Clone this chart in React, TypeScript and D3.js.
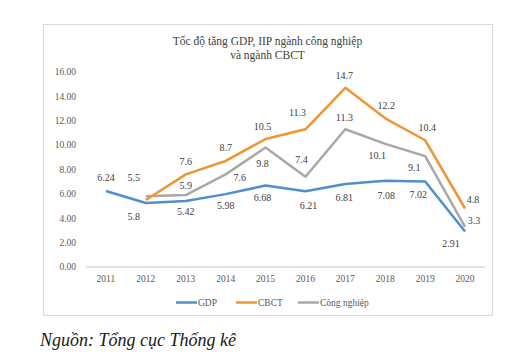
import React from "react";
import * as d3 from "d3";

const years = ["2011", "2012", "2013", "2014", "2015", "2016", "2017", "2018", "2019", "2020"];
const gdp = [6.24, 5.25, 5.42, 5.98, 6.68, 6.21, 6.81, 7.08, 7.02, 2.91];
const cbct = [null, 5.5, 7.6, 8.7, 10.5, 11.3, 14.7, 12.2, 10.4, 4.8];
const congNghiep = [null, 5.8, 5.9, 7.6, 9.8, 7.4, 11.3, 10.1, 9.1, 3.3];
const gdpLabels = ["6.24", "", "5.42", "5.98", "6.68", "6.21", "6.81", "7.08", "7.02", "2.91"];
const cbctLabels = ["", "5.5", "7.6", "8.7", "10.5", "11.3", "14.7", "12.2", "10.4", "4.8"];
const cnLabels = ["", "5.8", "5.9", "7.6", "9.8", "7.4", "11.3", "10.1", "9.1", "3.3"];
const yTicks = [0, 2, 4, 6, 8, 10, 12, 14, 16];
const seriesNames = ["GDP", "CBCT", "Công nghiệp"];

// label offsets (dx, dy) relative to the point, in px
const gdpOff: [number, number][] = [[0, -13], [0, 0], [0, 11], [0, 11], [-3, 12], [3, 14], [-1, 13], [1, 15], [-7, 13], [-14, 12]];
const cbctOff: [number, number][] = [[0, 0], [-12, -22], [0, -13], [0, -13], [-3, -13], [-8, -17], [-1, -12], [1, -13], [2, -13], [8, -9]];
const cnOff: [number, number][] = [[0, 0], [-12, 20], [0, -10], [14, 3], [-3, 16], [-4, -17], [-1, -12], [-8, 12], [-11, 11], [9, -6]];

const FONT = "Liberation Serif, Times New Roman, serif";
const COLORS = ["#4F8ECF", "#EE9632", "#A8A8A8"];
const ts: React.CSSProperties = { fontFamily: FONT };

export default function App() {
  const x = d3.scaleBand<string>().domain(years).range([86, 485]).padding(0);
  const y = d3.scaleLinear().domain([0, 16]).range([267, 72]);
  const cx = (i: number) => (x(years[i]) as number) + x.bandwidth() / 2;

  const line = d3
    .line<number | null>()
    .defined((d) => d !== null)
    .x((_, i) => cx(i))
    .y((d) => y(d as number));

  const series = [
    { vals: gdp, labels: gdpLabels, off: gdpOff },
    { vals: cbct, labels: cbctLabels, off: cbctOff },
    { vals: congNghiep, labels: cnLabels, off: cnOff },
  ];
  const drawOrder = [2, 1, 0];

  const legendX = [176, 236, 298];

  return (
    <svg width={525} height={362} style={{ position: "absolute", left: 0, top: 0, fontFamily: FONT }}>
      <rect x={0} y={0} width={525} height={362} fill="#fff" />
      <rect x={43.5} y={24.5} width={449} height={291} fill="#fff" stroke="#D9D9D9" strokeWidth={1} />
      <text style={ts} x={267.5} y={45} textAnchor="middle" fontSize={11.5} fill="#404040">
        Tốc độ tăng GDP, IIP ngành công nghiệp
      </text>
      <text style={ts} x={267.5} y={58.5} textAnchor="middle" fontSize={11.5} fill="#404040">
        và ngành CBCT
      </text>
      {yTicks.map((t) => (
        <text style={ts} key={t} x={76} y={y(t)} dy="0.35em" textAnchor="end" fontSize={9.5} fill="#595959">
          {d3.format(".2f")(t)}
        </text>
      ))}
      <line x1={86} x2={485} y1={y(0)} y2={y(0)} stroke="#D9D9D9" strokeWidth={1.5} />
      {years.map((yr, i) => (
        <text style={ts} key={yr} x={cx(i)} y={278.5} dy="0.35em" textAnchor="middle" fontSize={9.5} fill="#595959">
          {yr}
        </text>
      ))}
      {drawOrder.map((s) => (
        <path
          key={s}
          d={line(series[s].vals) || ""}
          fill="none"
          stroke={COLORS[s]}
          strokeWidth={2.5}
          strokeLinejoin="round"
        />
      ))}
      {series.map((s, si) =>
        s.vals.map((v, i) =>
          v !== null && s.labels[i] ? (
            <text
              style={ts}
              key={`${si}-${i}`}
              x={cx(i) + s.off[i][0]}
              y={y(v) + s.off[i][1]}
              dy="0.35em"
              textAnchor="middle"
              fontSize={10}
              fill="#404040"
            >
              {s.labels[i]}
            </text>
          ) : null
        )
      )}
      {seriesNames.map((n, i) => (
        <g key={n}>
          <line x1={legendX[i]} x2={legendX[i] + 21} y1={302.5} y2={302.5} stroke={COLORS[i]} strokeWidth={2.5} />
          <text style={ts} x={legendX[i] + 22} y={302.5} dy="0.35em" fontSize={9.5} fill="#595959">
            {n}
          </text>
        </g>
      ))}
      <text style={ts} x={40} y={346} fontSize={18} fontStyle="italic" fill="#1a1a1a">
        Nguồn: Tổng cục Thống kê
      </text>
    </svg>
  );
}
